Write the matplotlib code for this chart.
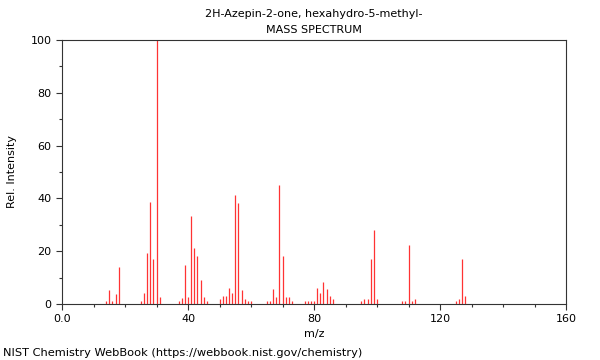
import numpy as np
import matplotlib
matplotlib.use("Agg")
from matplotlib import pyplot as plt
from matplotlib.ticker import MultipleLocator

# Peak list
mz = [14, 15, 16, 17, 18, 25, 26, 27, 28, 29, 30, 31,
      37, 38, 39, 40, 41, 42, 43, 44, 45, 46,
      50, 51, 52, 53, 54, 55, 56, 57, 58, 59, 60,
      65, 66, 67, 68, 69, 70, 71, 72, 73,
      77, 78, 79, 80, 81, 82, 83, 84, 85, 86,
      95, 96, 97, 98, 99, 100,
      108, 109, 110, 111, 112,
      125, 126, 127, 128]
intensity = [1.1, 5.3, 1.0, 3.9, 14.0, 1.0, 4.2, 19.2, 38.8, 16.9, 100.0, 2.7,
             1.0, 2.2, 14.8, 2.8, 33.3, 21.1, 18.2, 9.2, 2.7, 1.0,
             2.0, 3.2, 3.0, 6.2, 4.2, 41.3, 38.4, 5.2, 2.0, 1.0, 1.0,
             1.0, 1.0, 5.7, 2.7, 45.2, 18.2, 2.7, 2.7, 1.0,
             1.0, 1.0, 1.3, 1.3, 6.0, 4.0, 8.2, 5.7, 3.0, 2.0,
             1.0, 2.0, 2.0, 17.0, 28.0, 2.0,
             1.0, 1.0, 22.2, 1.3, 2.0,
             1.0, 2.0, 17.2, 3.0]
xticks = [0, 40, 80, 120, 160]
xticklabels = ["0.0", "40", "80", "120", "160"]

fig = plt.figure(figsize=(6, 3.6), dpi=100)
ax = fig.add_axes([62 / 600, 56 / 360, 504 / 600, 264 / 360])

ax.vlines(mz, 0, intensity, colors="#ff3333", linewidth=0.9)

ax.set_xlim(0, 160)
ax.set_ylim(0, 100)
ax.set_xticks(xticks)
ax.set_xticklabels(xticklabels)
ax.xaxis.set_minor_locator(MultipleLocator(10))
ax.yaxis.set_major_locator(MultipleLocator(20))
ax.yaxis.set_minor_locator(MultipleLocator(10))
ax.tick_params(labelsize=8, color="#333333", length=4, width=0.8)
ax.tick_params(which="minor", length=2.5, width=0.8, color="#333333")
for s in ax.spines.values():
    s.set_color("#333333")
    s.set_linewidth(0.8)

ax.set_xlabel("m/z", fontsize=8, labelpad=3)
ax.set_ylabel("Rel. Intensity", fontsize=8, labelpad=10)

fig.text(314 / 600, 1 - 14 / 360, "2H-Azepin-2-one, hexahydro-5-methyl-",
         ha="center", va="center", fontsize=8)
fig.text(314 / 600, 1 - 30 / 360, "MASS SPECTRUM", ha="center", va="center", fontsize=8)
fig.text(3 / 600, 1 - 353 / 360, "NIST Chemistry WebBook (https://webbook.nist.gov/chemistry)",
         ha="left", va="center", fontsize=8.2)

fig.savefig("out.png", dpi=100)
plt.close(fig)
